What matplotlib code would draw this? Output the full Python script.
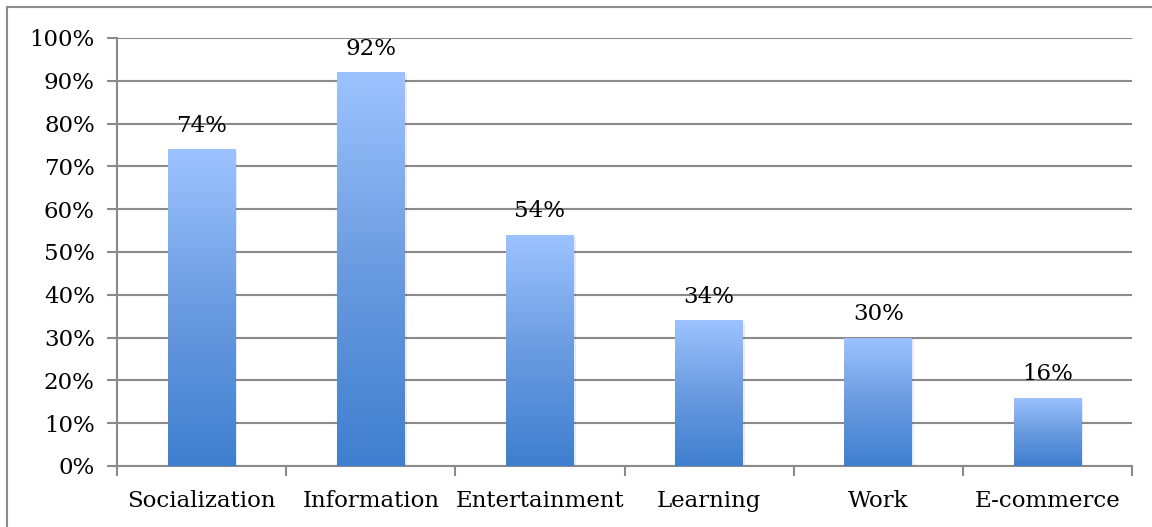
import numpy as np
import matplotlib
matplotlib.use("Agg")
import matplotlib.pyplot as plt
from matplotlib.colors import LinearSegmentedColormap
from matplotlib.lines import Line2D

categories = ["Socialization", "Information", "Entertainment", "Learning", "Work", "E-commerce"]
values = [74, 92, 54, 34, 30, 16]
yticks = [0, 10, 20, 30, 40, 50, 60, 70, 80, 90, 100]

plt.rcParams['font.family'] = ['DejaVu Serif']

fig = plt.figure(figsize=(11.52, 5.27), dpi=100)
ax = fig.add_axes([117 / 1152, 1 - 466 / 527, (1132 - 117) / 1152, (466 - 38) / 527])

grid_col = "#8a8a8a"
fs = 16.5
grad = LinearSegmentedColormap.from_list("bar", ["#3f7fcf", "#6a9be0", "#9dc3ff"])
gimg = np.linspace(0, 1, 256).reshape(-1, 1)

x = np.arange(len(categories))
bars = ax.bar(x, values, width=0.4, color="none", zorder=3)
for b, v in zip(bars, values):
    x0, w = b.get_x(), b.get_width()
    # slight shadow at the right/bottom
    ax.bar(x0 + w / 2 + 0.012, v, width=w, bottom=-0.4, color="#000000", alpha=0.08, zorder=2.5)
    im = ax.imshow(gimg, cmap=grad, origin="lower", aspect="auto",
                   extent=[x0, x0 + w, 0, v], zorder=3)
    im.set_clip_path(b)
    ax.annotate(f"{v}%", (x0 + w / 2, v), xytext=(0, 9), textcoords="offset points",
                ha="center", va="bottom", fontsize=fs)

ax.set_xlim(-0.5, len(categories) - 0.5)
ax.set_ylim(0, 100)
ax.set_yticks(yticks)
ax.set_yticklabels([f"{t}%" for t in yticks], fontsize=fs)
ax.set_xticks(x)
ax.set_xticklabels(categories, fontsize=fs)
ax.set_xticks(np.arange(-0.5, len(categories)), minor=True)
ax.tick_params(axis="x", which="major", length=0, pad=17)
ax.tick_params(axis="x", which="minor", length=7, width=1.5, color=grid_col)
ax.tick_params(axis="y", length=7, width=1.5, color=grid_col, pad=9)

ax.yaxis.grid(True, color=grid_col, linewidth=1.5, zorder=1)
ax.set_axisbelow(True)
for s in ["top", "right"]:
    ax.spines[s].set_visible(False)
for s in ["left", "bottom"]:
    ax.spines[s].set_color(grid_col)
    ax.spines[s].set_linewidth(1.5)

# outer frame (top and left edges)
fig.add_artist(Line2D([7 / 1152, 1], [1 - 7 / 527, 1 - 7 / 527], color=grid_col, lw=1.5, transform=fig.transFigure))
fig.add_artist(Line2D([7 / 1152, 7 / 1152], [0, 1 - 7 / 527], color=grid_col, lw=1.5, transform=fig.transFigure))

fig.savefig("out.png", dpi=100)
